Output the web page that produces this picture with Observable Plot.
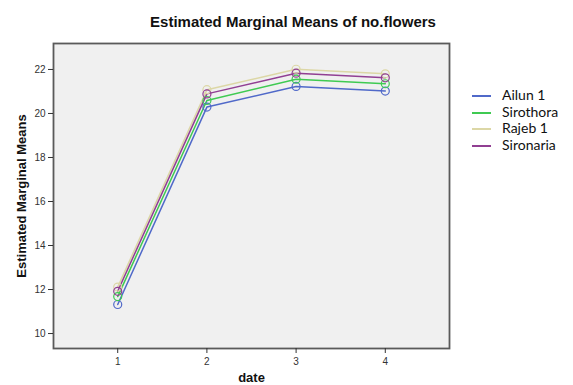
<!DOCTYPE html>
<html>
<head>
<meta charset="utf-8">
<script src="https://cdn.jsdelivr.net/npm/d3@7"></script>
<script src="https://cdn.jsdelivr.net/npm/@observablehq/plot@0.6"></script>
<style>
  body { margin: 0; background: #fff; }
  #wrap { position: relative; width: 573px; height: 385px; overflow: hidden; }
  #title { position: absolute; left: 0; top: 13px; width: 586px; text-align: center;
           font: bold 15px "Liberation Sans", Arial, sans-serif; color: #111; line-height: 18px; }
  #legend { position: absolute; left: 472px; top: 87px; font: 14px Lato, "Liberation Sans", sans-serif; color: #111; }
  .row { height: 16.5px; line-height: 16.5px; white-space: nowrap; }
  .sw { display: inline-block; width: 19px; height: 2px; vertical-align: middle; margin-right: 11px; }
  svg { position: absolute; left: 0; top: 0; }
</style>
</head>
<body>
<div id="wrap">
  <div id="title">Estimated Marginal Means of no.flowers</div>
  <div id="legend"></div>
</div>
<script>
const dates = [1, 2, 3, 4];
const groups = ["Ailun 1", "Sirothora", "Rajeb 1", "Sironaria"];
const ailun = [11.32, 20.29, 21.23, 21.02];
const sirothora = [11.68, 20.59, 21.56, 21.35];
const rajeb = [12.11, 21.08, 22.01, 21.80];
const sironaria = [11.92, 20.89, 21.83, 21.62];
const colors = ["#5069c9", "#3fca52", "#dcd7a6", "#913f92"];
const yTicks = [10, 12, 14, 16, 18, 20, 22];
const xTicks = [1, 2, 3, 4];

const series = [ailun, sirothora, rajeb, sironaria];
const data = [];
groups.forEach((g, i) => dates.forEach((d, j) => data.push({group: g, date: d, value: series[i][j]})));

const chart = Plot.plot({
  width: 573,
  height: 385,
  marginTop: 43,
  marginLeft: 53,
  marginRight: 124,
  marginBottom: 37,
  style: {fontFamily: "'Liberation Sans', Arial, sans-serif", background: "transparent"},
  x: {domain: [0.28, 4.72]},
  y: {domain: [9.32, 23.18]},
  color: {domain: groups, range: colors},
  marks: [
    Plot.frame({fill: "#f0f0f0", stroke: null}),
    Plot.line(data, {x: "date", y: "value", z: "group", stroke: "group", strokeWidth: 1.5}),
    Plot.dot(data, {x: "date", y: "value", stroke: "group", fill: "none", r: 4, strokeWidth: 1.2}),
    Plot.frame({stroke: "#5a5a5a", strokeWidth: 1.8}),
    Plot.axisX({ticks: xTicks, tickFormat: "d", tickSize: 5, tickPadding: 4, fontSize: 10, color: "#333",
      label: "date", labelAnchor: "center", labelArrow: "none", labelOffset: 33}),
    Plot.axisY({ticks: yTicks, tickFormat: "d", tickSize: 5, tickPadding: 3, fontSize: 10, color: "#333",
      label: "Estimated Marginal Means", labelAnchor: "center", labelArrow: "none", labelOffset: 37})
  ]
});

chart.querySelectorAll("g[aria-label='x-axis label'] text, g[aria-label='y-axis label'] text").forEach(t => {
  t.setAttribute("font-weight", "bold");
  t.setAttribute("font-size", "13");
  t.setAttribute("fill", "#111");
});

document.getElementById("wrap").appendChild(chart);

const legend = document.getElementById("legend");
groups.forEach((g, i) => {
  const row = document.createElement("div");
  row.className = "row";
  const sw = document.createElement("span");
  sw.className = "sw";
  sw.style.background = colors[i];
  row.appendChild(sw);
  row.appendChild(document.createTextNode(g));
  legend.appendChild(row);
});
</script>
</body>
</html>
